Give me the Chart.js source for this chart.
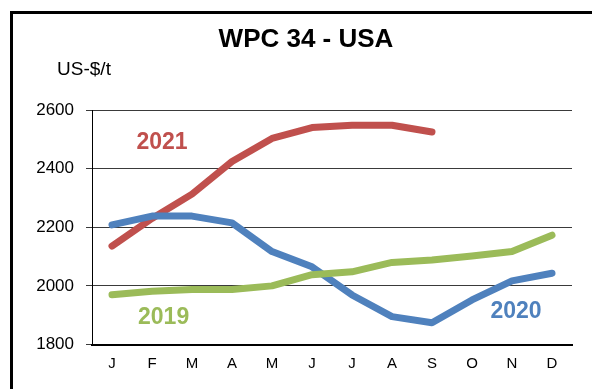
<!DOCTYPE html>
<html lang="de">
<head>
  <meta charset="UTF-8">
  <title>WPC 34 - USA</title>
  <script src="https://cdn.jsdelivr.net/npm/chart.js"></script>
  <style>
    body, html {
      margin: 0;
      background: #fff;
      overflow: hidden;
      font-family: 'Liberation Sans', Arial, sans-serif;
    }
    .wrap {
      position: absolute;
      left: 0;
      top: 0;
      width: 592px;
      height: 389px;
    }
    .frame {
      position: absolute;
      left: 10px;
      top: 11px;
      width: 700px;
      height: 500px;
      border-left: 3px solid #000;
      border-top: 3px solid #000;
      pointer-events: none;
    }
  </style>
</head>
<body>
  <div class="wrap">
    <canvas id="chart"></canvas>
    <div class="frame"></div>
  </div>

  <script>
    const months = ["J", "F", "M", "A", "M", "J", "J", "A", "S", "O", "N", "D"];
    const yTicks = [1800, 2000, 2200, 2400, 2600];

    // US-$/t per month
    const wpc2019 = [1970, 1982, 1988, 1988, 2000, 2038, 2048, 2080, 2088, 2102, 2117, 2173];
    const wpc2020 = [2208, 2238, 2238, 2215, 2117, 2065, 1969, 1895, 1874, 1952, 2017, 2043];
    const wpc2021 = [2136, 2230, 2313, 2424, 2503, 2540, 2548, 2548, 2525];

    const FONT = "'Liberation Sans', Arial, sans-serif";

    // series name labels inside the plot, placed in data coordinates
    const seriesLabels = [
      { text: "2021", x: 1.25, y: 2487, color: "#C0504D" },
      { text: "2019", x: 1.29, y: 1892, color: "#9BBB59" },
      { text: "2020", x: 10.1, y: 1913, color: "#4F81BD" }
    ];

    const textPlugin = {
      id: "texts",
      afterDraw(chart) {
        const ctx = chart.ctx;
        const xs = chart.scales.x, ys = chart.scales.y;
        ctx.save();
        ctx.textAlign = "center";
        ctx.textBaseline = "middle";
        ctx.fillStyle = "#000";
        ctx.font = "bold 26px " + FONT;
        ctx.fillText("WPC 34 - USA", 306, 40);
        ctx.font = "19px " + FONT;
        ctx.fillText("US-$/t", 84, 70);
        ctx.font = "bold 23px " + FONT;
        seriesLabels.forEach(l => {
          ctx.fillStyle = l.color;
          ctx.fillText(l.text, xs.getPixelForValue(l.x), ys.getPixelForValue(l.y));
        });
        ctx.restore();
      }
    };

    const line = (data, color) => ({
      data: data,
      borderColor: color,
      backgroundColor: color,
      borderWidth: 7,
      pointRadius: 0,
      tension: 0,
      borderCapStyle: "round",
      borderJoinStyle: "round"
    });

    new Chart(document.getElementById("chart"), {
      type: "line",
      data: {
        labels: months,
        datasets: [
          line(wpc2019, "#9BBB59"),
          line(wpc2020, "#4F81BD"),
          line(wpc2021, "#C0504D")
        ]
      },
      options: {
        responsive: true,
        maintainAspectRatio: false,
        animation: false,
        layout: { padding: { left: 0, top: 110, right: 20, bottom: 0 } },
        plugins: {
          legend: { display: false },
          tooltip: { enabled: false }
        },
        scales: {
          x: {
            offset: true,
            grid: { display: false, drawTicks: false },
            border: { display: true, color: "#000", width: 2 },
            ticks: {
              color: "#000",
              padding: 10,
              font: { family: FONT, size: 15 },
              autoSkip: false,
              maxRotation: 0
            },
            afterFit(scale) { scale.height = 44.5; }
          },
          y: {
            min: 1800,
            max: 2600,
            afterBuildTicks(scale) { scale.ticks = yTicks.map(v => ({ value: v })); },
            grid: { color: "#3a3a3a", lineWidth: 1, tickLength: 6, drawTicks: true },
            border: { display: true, color: "#000", width: 1 },
            ticks: {
              color: "#000",
              padding: 12,
              font: { family: FONT, size: 17 },
              callback: v => String(v)
            },
            afterFit(scale) { scale.width = 92; }
          }
        }
      },
      plugins: [textPlugin]
    });
  </script>
</body>
</html>
